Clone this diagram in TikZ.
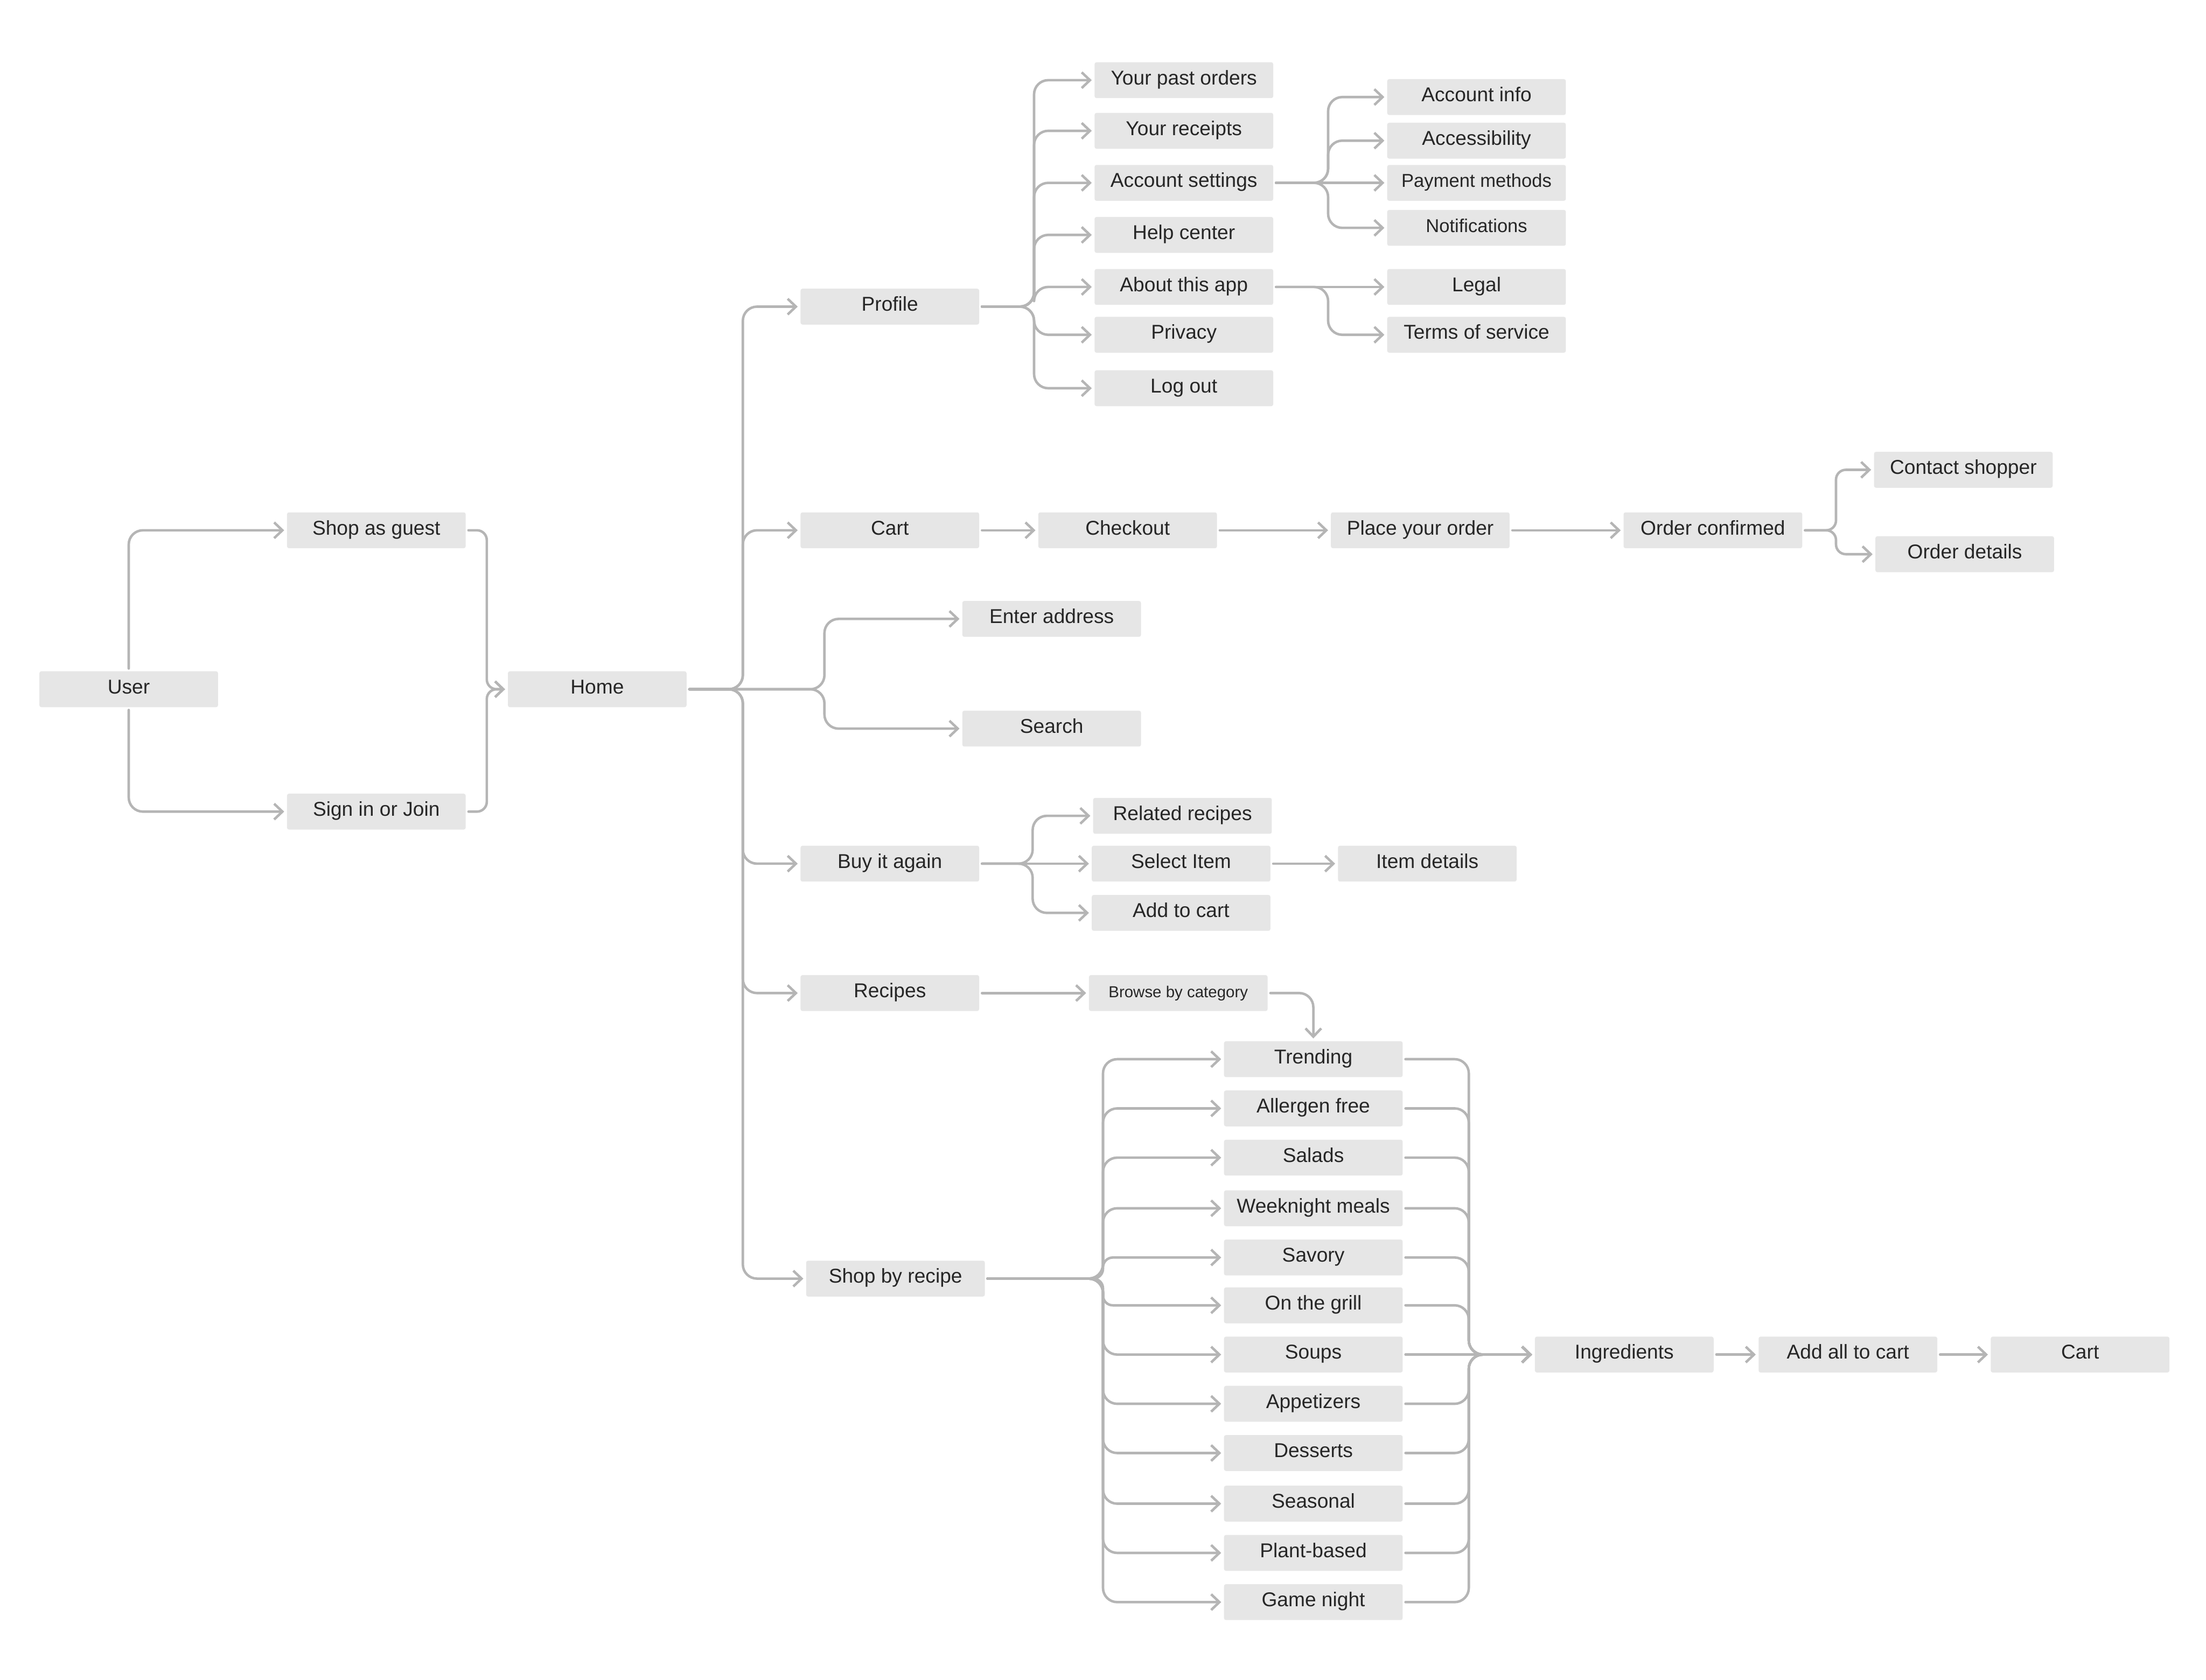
\documentclass[tikz,border=0pt]{standalone}
\usepackage{fontspec}
\setmainfont{Liberation Sans}
\usetikzlibrary{arrows.meta}
\definecolor{boxfill}{HTML}{E6E6E6}
\definecolor{linec}{HTML}{B5B5B5}
\definecolor{txt}{HTML}{262626}
\def\u{0.035823cm}
\tikzset{
  box/.style={fill=boxfill, rounded corners=0.05cm, minimum width={127*\u}, minimum height={25.5*\u}, inner sep=0pt, outer sep={2*\u}, text=txt, text height=0.72em, text depth=0.08em, font=\fontsize{14.5}{16}\selectfont},
  smallbox/.style={box, font=\fontsize{13.5}{15}\selectfont},
  tinybox/.style={box, font=\fontsize{11.5}{13}\selectfont},
  conn/.style={draw=linec, line width=1.8pt, line cap=round, line join=round, rounded corners=0.36cm, -{Straight Barb[length=0.21cm, width=0.40cm, line width=1.8pt]}},
  tight/.style={rounded corners=0.25cm},
}
\begin{document}
\begin{tikzpicture}[x=\u, y=-\u]
\useasboundingbox[fill=white] (0,0) rectangle (1568,1194);
% left part
\node[box] (user) at (91.5,490) {User};
\node[box] (guest) at (267.5,377) {Shop as guest};
\node[box] (signin) at (267.5,577) {Sign in or Join};
\node[box] (home) at (424.5,490) {Home};
% home children
\node[box] (profile) at (632.5,218) {Profile};
\node[box] (cart) at (632.5,377) {Cart};
\node[box] (enter) at (747.5,440) {Enter address};
\node[box] (search) at (747.5,518) {Search};
\node[box] (buy) at (632.5,614) {Buy it again};
\node[box] (recipes) at (632.5,706) {Recipes};
\node[box] (sbr) at (636.5,909) {Shop by recipe};
% profile children
\node[box] (past) at (841.5,57) {Your past orders};
\node[box] (receipts) at (841.5,93) {Your receipts};
\node[box] (acct) at (841.5,130) {Account settings};
\node[box] (help) at (841.5,167) {Help center};
\node[box] (about) at (841.5,204) {About this app};
\node[box] (privacy) at (841.5,238) {Privacy};
\node[box] (logout) at (841.5,276) {Log out};
% account settings children
\node[box] (ainfo) at (1049.5,69) {Account info};
\node[box] (access) at (1049.5,100) {Accessibility};
\node[smallbox] (pay) at (1049.5,130) {Payment methods};
\node[smallbox] (notif) at (1049.5,162) {Notifications};
\node[box] (legal) at (1049.5,204) {Legal};
\node[box] (terms) at (1049.5,238) {Terms of service};
% cart chain
\node[box] (checkout) at (801.5,377) {Checkout};
\node[box] (place) at (1009.5,377) {Place your order};
\node[box] (confirmed) at (1217.5,377) {Order confirmed};
\node[box] (contact) at (1395.5,334) {Contact shopper};
\node[box] (odetails) at (1396.5,394) {Order details};
% buy it again
\node[box] (related) at (840.5,580) {Related recipes};
\node[box] (select) at (839.5,614) {Select Item};
\node[box] (addcart) at (839.5,649) {Add to cart};
\node[box] (item) at (1014.5,614) {Item details};
% recipes
\node[tinybox] (browse) at (837.5,706) {Browse by category};
% categories
\node[box] (c1) at (933.5,753) {Trending};
\node[box] (c2) at (933.5,788) {Allergen free};
\node[box] (c3) at (933.5,823) {Salads};
\node[box] (c4) at (933.5,859) {Weeknight meals};
\node[box] (c5) at (933.5,894) {Savory};
\node[box] (c6) at (933.5,928) {On the grill};
\node[box] (c7) at (933.5,963) {Soups};
\node[box] (c8) at (933.5,998) {Appetizers};
\node[box] (c9) at (933.5,1033) {Desserts};
\node[box] (c10) at (933.5,1069) {Seasonal};
\node[box] (c11) at (933.5,1104) {Plant-based};
\node[box] (c12) at (933.5,1139) {Game night};
\node[box] (ingr) at (1154.5,963) {Ingredients};
\node[box] (addall) at (1313.5,963) {Add all to cart};
\node[box] (cart2) at (1478.5,963) {Cart};

% connectors
\draw[conn] (user.north) |- (guest.west);
\draw[conn] (user.south) |- (signin.west);
\draw[conn, tight] (guest.east) -- ++(13,0) |- (home.west);
\draw[conn, tight] (signin.east) -- ++(13,0) |- (home.west);

\foreach \t in {profile,cart,buy,recipes}
  \draw[conn] (home.east) -- ++(38,0) |- (\t.west);
\draw[conn] (home.east) -- ++(38,0) |- (sbr.west);
\draw[conn] (home.east) -- ++(96,0) |- (enter.west);
\draw[conn] (home.east) -- ++(96,0) |- (search.west);

\foreach \t in {past,receipts,acct,help,about,privacy,logout}
  \draw[conn] (profile.east) -- ++(37,0) |- (\t.west);

\foreach \t in {ainfo,access,notif}
  \draw[conn] (acct.east) -- ++(37,0) |- (\t.west);
\draw[conn] (acct.east) -- (pay.west);
\draw[conn] (about.east) -- (legal.west);
\draw[conn] (about.east) -- ++(37,0) |- (terms.west);

\draw[conn] (cart.east) -- (checkout.west);
\draw[conn] (checkout.east) -- (place.west);
\draw[conn] (place.east) -- (confirmed.west);
\draw[conn, tight] (confirmed.east) -- ++(22,0) |- (contact.west);
\draw[conn, tight] (confirmed.east) -- ++(22,0) |- (odetails.west);

\draw[conn] (buy.east) -- ++(36,0) |- (related.west);
\draw[conn] (buy.east) -- (select.west);
\draw[conn] (buy.east) -- ++(36,0) |- (addcart.west);
\draw[conn] (select.east) -- (item.west);

\draw[conn] (recipes.east) -- (browse.west);
\draw[conn] (browse.east) -| (c1.north);

\foreach \t in {c1,c2,c3,c4,c7,c8,c9,c10,c11,c12}
  \draw[conn] (sbr.east) -- ++(82,0) |- (\t.west);
\foreach \t in {c5,c6}
  \draw[conn, tight] (sbr.east) -- ++(82,0) |- (\t.west);

\foreach \t in {c1,c2,c3,c4,c5,c6,c8,c9,c10,c11,c12}
  \draw[conn] (\t.east) -- ++(45,0) |- (ingr.west);
\draw[conn] (c7.east) -- (ingr.west);
\draw[conn] (ingr.east) -- (addall.west);
\draw[conn] (addall.east) -- (cart2.west);
\end{tikzpicture}
\end{document}
